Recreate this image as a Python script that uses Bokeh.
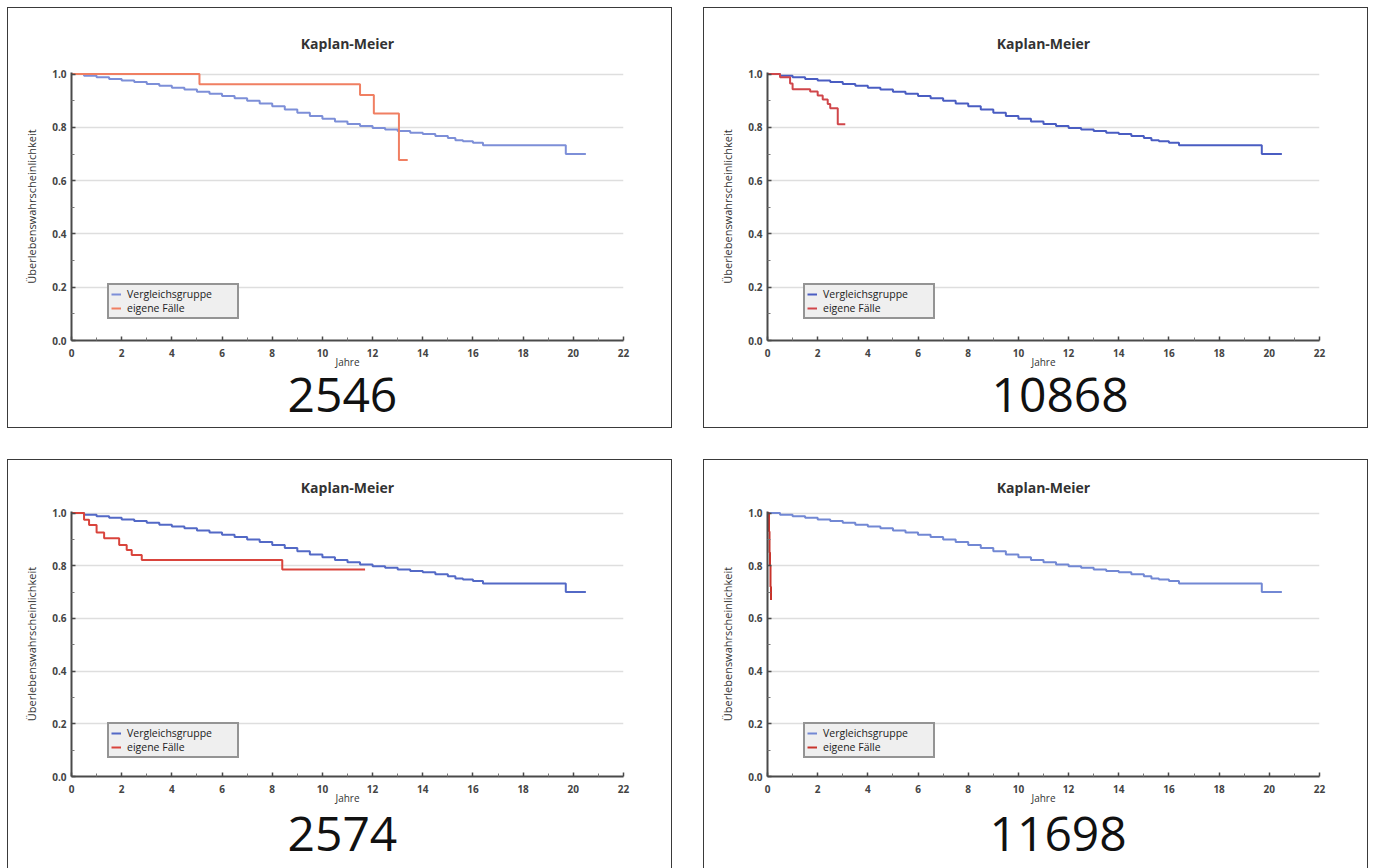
from bokeh.plotting import figure
from bokeh.models import Range1d, FixedTicker, Legend, LegendItem, Title
from bokeh.layouts import row, column
from bokeh.embed import file_html
from bokeh.resources import INLINE

# ---------------- data ----------------
x_ticks = [0, 2, 4, 6, 8, 10, 12, 14, 16, 18, 20, 22]
x_minor_ticks = [1, 3, 5, 7, 9, 11, 13, 15, 17, 19, 21]
y_ticks = [0.0, 0.2, 0.4, 0.6, 0.8, 1.0]
y_minor_ticks = [0.1, 0.3, 0.5, 0.7, 0.9]
y_tick_labels = ["0.0", "0.2", "0.4", "0.6", "0.8", "1.0"]

series_names = ["Vergleichsgruppe", "eigene Fälle"]
title_text = "Kaplan-Meier"
x_label = "Jahre"
y_label = "Überlebenswahrscheinlichkeit"

# comparison group (same in every panel)
vergleich_t = [0, 0.5, 1, 1.5, 2, 2.5, 3, 3.5, 4, 4.5, 5, 5.5, 6, 6.5, 7, 7.5,
               8, 8.5, 9, 9.5, 10, 10.5, 11, 11.5, 12, 12.5, 13, 13.5, 14,
               14.5, 15, 15.3, 15.6, 16.0, 16.4, 19.7, 20.5]
vergleich_s = [1.0, 0.994, 0.988, 0.982, 0.976, 0.970, 0.963, 0.956, 0.949,
               0.942, 0.934, 0.926, 0.918, 0.909, 0.900, 0.890, 0.879, 0.867,
               0.855, 0.843, 0.832, 0.822, 0.813, 0.805, 0.798, 0.792, 0.786,
               0.780, 0.775, 0.768, 0.760, 0.752, 0.748, 0.742, 0.733, 0.700,
               0.700]

# own cases per panel
case_ids = ["2546", "10868", "2574", "11698"]

eigene_2546_t = [0, 5.1, 11.5, 12.05, 13.05, 13.4]
eigene_2546_s = [1.0, 0.962, 0.922, 0.852, 0.678, 0.678]

eigene_10868_t = [0, 0.5, 0.9, 1.0, 1.7, 2.0, 2.2, 2.4, 2.5, 2.8, 3.1]
eigene_10868_s = [1.0, 0.988, 0.965, 0.943, 0.935, 0.920, 0.905, 0.888, 0.872, 0.812, 0.812]

eigene_2574_t = [0, 0.5, 0.7, 1.0, 1.3, 1.9, 2.2, 2.4, 2.8, 8.4, 11.7]
eigene_2574_s = [1.0, 0.975, 0.955, 0.926, 0.904, 0.879, 0.860, 0.841, 0.822, 0.786, 0.786]

eigene_11698_t = [0, 0.06, 0.08, 0.10, 0.12, 0.14]
eigene_11698_s = [1.0, 0.93, 0.85, 0.80, 0.72, 0.67]

eigene_t = [eigene_2546_t, eigene_10868_t, eigene_2574_t, eigene_11698_t]
eigene_s = [eigene_2546_s, eigene_10868_s, eigene_2574_s, eigene_11698_s]

# ---------------- styles / layout ----------------
blue_colors = ["#7d8fd8", "#4a5dc2", "#5369c6", "#7288d4"]
red_colors = ["#f07f62", "#d0464a", "#d9443c", "#c8342c"]
number_offset = [216, 224, 216, 222]   # px from the frame's left edge to the case number

W = 665
TOP = dict(height=421, border_top=64, frame_h=265, legend_y=21,
           title_standoff=39, number_standoff=9)
BOT = dict(height=409, border_top=51, frame_h=262, legend_y=18,
           title_standoff=30, number_standoff=15)
FONT = "Open Sans"
AX = "#4a4a4a"


def make_panel(i, geo, bottom_row):
    frame_h = geo["frame_h"]
    border_bottom = geo["height"] - geo["border_top"] - frame_h - 3
    p = figure(width=W, height=geo["height"],
               x_range=Range1d(0, 22), y_range=Range1d(0, 1.006),
               output_backend="svg", toolbar_location=None,
               min_border_left=63, min_border_right=50,
               min_border_top=geo["border_top"], min_border_bottom=border_bottom,
               background_fill_color="white", border_fill_color="white",
               outline_line_color=None)
    css = {"border": "1.5px solid #3a3a3a", "box-sizing": "border-box"}
    if bottom_row:
        css["border-bottom"] = "none"
    p.styles = css

    # title above the frame
    p.title.text = title_text
    p.title.align = "center"
    p.title.text_font = FONT
    p.title.text_font_size = "14px"
    p.title.text_font_style = "bold"
    p.title.text_color = "#333333"
    p.title.standoff = geo["title_standoff"]

    # grid
    p.xgrid.visible = False
    p.ygrid.ticker = FixedTicker(ticks=y_ticks)
    p.ygrid.grid_line_color = "#dedede"
    p.ygrid.grid_line_width = 1.5

    # x axis
    xa = p.xaxis[0]
    xa.ticker = FixedTicker(ticks=x_ticks, minor_ticks=x_minor_ticks)
    xa.axis_label = x_label
    # y axis
    ya = p.yaxis[0]
    ya.ticker = FixedTicker(ticks=y_ticks, minor_ticks=y_minor_ticks)
    ya.major_label_overrides = {v: lab for v, lab in zip(y_ticks, y_tick_labels)}
    ya.axis_label = y_label

    for ax in (xa, ya):
        ax.axis_line_color = AX
        ax.axis_line_width = 2
        ax.major_tick_line_color = AX
        ax.major_tick_line_width = 1.5
        ax.major_tick_in = 4
        ax.major_tick_out = 0
        ax.minor_tick_line_color = "#777777"
        ax.minor_tick_in = 3
        ax.minor_tick_out = 0
        ax.major_label_text_font = FONT
        ax.major_label_text_font_size = "10px"
        ax.major_label_text_font_style = "bold"
        ax.major_label_text_color = "#444444"
        ax.axis_label_text_font = FONT
        ax.axis_label_text_font_style = "normal"
        ax.axis_label_text_color = "#333333"
    xa.axis_label_text_font_size = "10px"
    ya.axis_label_text_font_size = "11px"
    xa.major_label_standoff = 8
    xa.axis_label_standoff = -5
    ya.major_label_standoff = 5
    ya.axis_label_standoff = 10

    # case number below the axis
    p.add_layout(Title(text=case_ids[i], align="left", offset=number_offset[i],
                       text_font=FONT, text_font_size="48px",
                       text_font_style="normal", text_color="#111111",
                       standoff=geo["number_standoff"]), "below")

    # curves
    r_blue = p.step(vergleich_t, vergleich_s, mode="after",
                    line_color=blue_colors[i], line_width=2)
    r_red = p.step(eigene_t[i], eigene_s[i], mode="after",
                   line_color=red_colors[i], line_width=2)

    legend = Legend(items=[LegendItem(label=series_names[0], renderers=[r_blue]),
                           LegendItem(label=series_names[1], renderers=[r_red])],
                    location=(36, geo["legend_y"]),
                    border_line_color="#3a3a3a", border_line_width=2,
                    background_fill_color="#efefef", background_fill_alpha=1,
                    label_text_font=FONT, label_text_font_size="10.5px",
                    label_text_color="#222222", label_text_line_height=1.0,
                    glyph_width=10, glyph_height=8, label_height=12,
                    label_width=108, label_standoff=6, spacing=0,
                    padding=2, margin=0)
    p.add_layout(legend)
    return p


p1 = make_panel(0, TOP, False)
p2 = make_panel(1, TOP, False)
p3 = make_panel(2, BOT, True)
p4 = make_panel(3, BOT, True)

layout = column(row(p1, p2, spacing=31), row(p3, p4, spacing=31), spacing=31,
                margin=(7, 0, 0, 7))

open("out.html", "w").write(file_html(layout, INLINE))
